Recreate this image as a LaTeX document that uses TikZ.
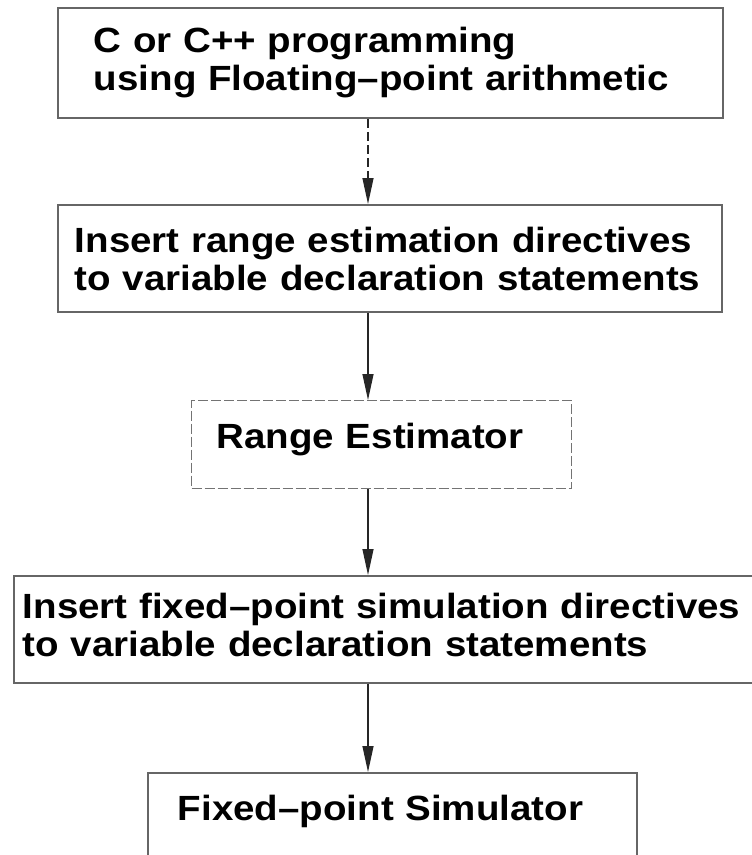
\documentclass[tikz,border=0pt]{standalone}
\usepackage{fontspec}
\newfontfamily\flowfont[FakeStretch=1.1, Ligatures=TeX]{Liberation Sans}
\usepackage{tikz}
\usetikzlibrary{arrows.meta, positioning, calc}

\begin{document}
\begin{tikzpicture}[
    x=1pt, y=-1pt,
    procbox/.style={rectangle, draw=black!60, line width=1.8pt, anchor=north west, align=left, inner ysep=0pt, font=\flowfont\bfseries\fontsize{35pt}{38pt}\selectfont},
    faintbox/.style={procbox, draw=black!55, line width=1.3pt, dash pattern=on 10pt off 3pt},
    arrow/.style={line width=1.2pt, draw=black!85, -{Triangle[length=26pt, width=11pt]}},
    dasharrow/.style={arrow, dash pattern=on 9pt off 4pt}
]
    \useasboundingbox (0,0) rectangle (752,855);

    % Nodes
    \node (src) [procbox, text width=593pt, inner xsep=36pt, text height=45pt, text depth=65pt] at (57,7) {C or C++ programming\\using Floating--point arithmetic};
    \node (rdir) [procbox, text width=630pt, inner xsep=17pt, text height=48pt, text depth=59pt] at (57,204) {Insert range estimation directives\\to variable declaration statements};
    \node (rest) [faintbox, text width=330pt, inner xsep=25pt, text height=48pt, text depth=40pt] at (191,400) {Range Estimator};
    \node (fdir) [procbox, text width=740pt, inner xsep=9pt, text height=43pt, text depth=64pt] at (13,575) {Insert fixed--point simulation directives\\to variable declaration statements};
    \node (fsim) [procbox, text width=429pt, inner xsep=30pt, text height=48pt, text depth=40pt] at (147,772) {Fixed--point Simulator};

    % Flows
    \coordinate (spine) at (368,0);
    \draw [dasharrow] (src.south -| spine) -- (rdir.north -| spine);
    \draw [arrow] (rdir.south -| spine) -- (rest.north -| spine);
    \draw [arrow] (rest.south -| spine) -- (fdir.north -| spine);
    \draw [arrow] (fdir.south -| spine) -- (fsim.north -| spine);

\end{tikzpicture}
\end{document}
